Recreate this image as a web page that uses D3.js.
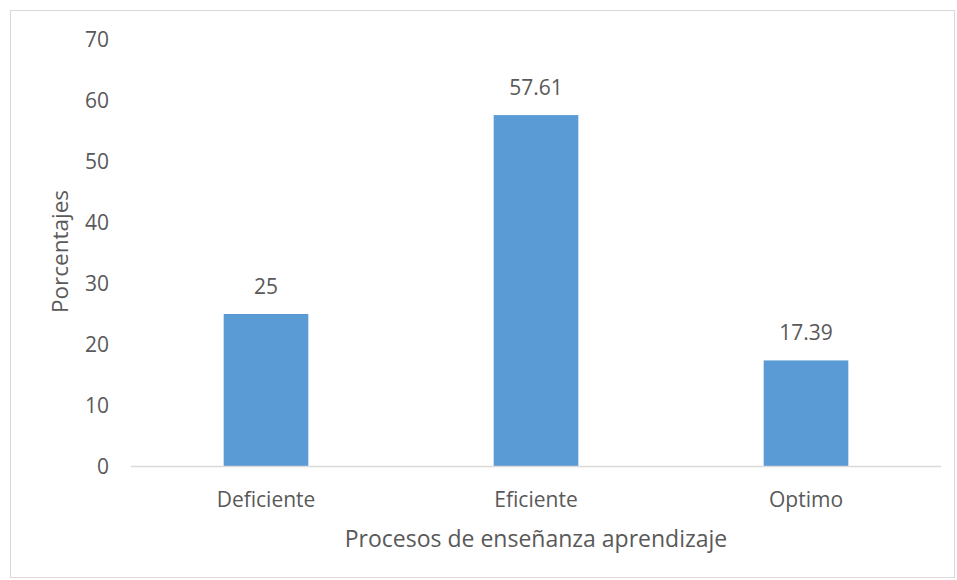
<!DOCTYPE html>
<html>
<head>
<meta charset="utf-8">
<script src="https://cdn.jsdelivr.net/npm/d3@7"></script>
<style>
  body { margin: 0; background: #fff; }
  svg text { font-family: "Open Sans", "Noto Sans", sans-serif; fill: #595959; }
</style>
</head>
<body>
<div id="chart"></div>
<script>
// Data
const categories = ["Deficiente", "Eficiente", "Optimo"];
const values = [25, 57.61, 17.39];
const valueLabels = ["25", "57.61", "17.39"];
const yTicks = [0, 10, 20, 30, 40, 50, 60, 70];

const W = 957, H = 580;
const plot = { left: 131, right: 941, top: 39.5, bottom: 466.5 };

const svg = d3.select("#chart").append("svg")
  .attr("width", W)
  .attr("height", H);

// Outer chart border
svg.append("rect")
  .attr("x", 10.5).attr("y", 10.5)
  .attr("width", 944).attr("height", 567)
  .attr("fill", "#fff")
  .attr("stroke", "#d9d9d9")
  .attr("stroke-width", 1);

const x = d3.scaleBand()
  .domain(categories)
  .range([plot.left, plot.right])
  .paddingInner(0.6865)
  .paddingOuter(0.6865 / 2);

const y = d3.scaleLinear()
  .domain([0, 70])
  .range([plot.bottom, plot.top]);

// Bars
svg.selectAll(".bar")
  .data(values)
  .enter().append("rect")
  .attr("class", "bar")
  .attr("x", (d, i) => x(categories[i]))
  .attr("y", d => y(d))
  .attr("width", x.bandwidth())
  .attr("height", d => y(0) - y(d))
  .attr("fill", "#5b9bd5");

// X axis line
svg.append("line")
  .attr("x1", plot.left).attr("x2", plot.right)
  .attr("y1", y(0)).attr("y2", y(0))
  .attr("stroke", "#d9d9d9")
  .attr("stroke-width", 1.5);

// Y tick labels
const yAxis = svg.append("g")
  .attr("transform", `translate(${plot.left - 22},0)`)
  .call(d3.axisLeft(y).tickValues(yTicks).tickSize(0).tickPadding(0));
yAxis.select(".domain").remove();
yAxis.selectAll("text")
  .style("font-size", "21px")
  .attr("fill", "#595959");

// X tick labels
const xAxis = svg.append("g")
  .attr("transform", `translate(0,${y(0)})`)
  .call(d3.axisBottom(x).tickSize(0).tickPadding(0));
xAxis.select(".domain").remove();
xAxis.selectAll("text")
  .attr("dy", null)
  .attr("y", 40)
  .style("font-size", "21px")
  .attr("fill", "#595959");

// Value labels
svg.selectAll(".value")
  .data(values)
  .enter().append("text")
  .attr("class", "value")
  .attr("x", (d, i) => x(categories[i]) + x.bandwidth() / 2)
  .attr("y", d => y(d) - 20)
  .attr("text-anchor", "middle")
  .style("font-size", "21px")
  .text((d, i) => valueLabels[i]);

// Axis titles
svg.append("text")
  .attr("x", (plot.left + plot.right) / 2)
  .attr("y", 547)
  .attr("text-anchor", "middle")
  .style("font-size", "23px")
  .text("Procesos de enseñanza aprendizaje");

svg.append("text")
  .attr("transform", `translate(68,251.5) rotate(-90)`)
  .attr("text-anchor", "middle")
  .style("font-size", "22.5px")
  .text("Porcentajes");
</script>
</body>
</html>
